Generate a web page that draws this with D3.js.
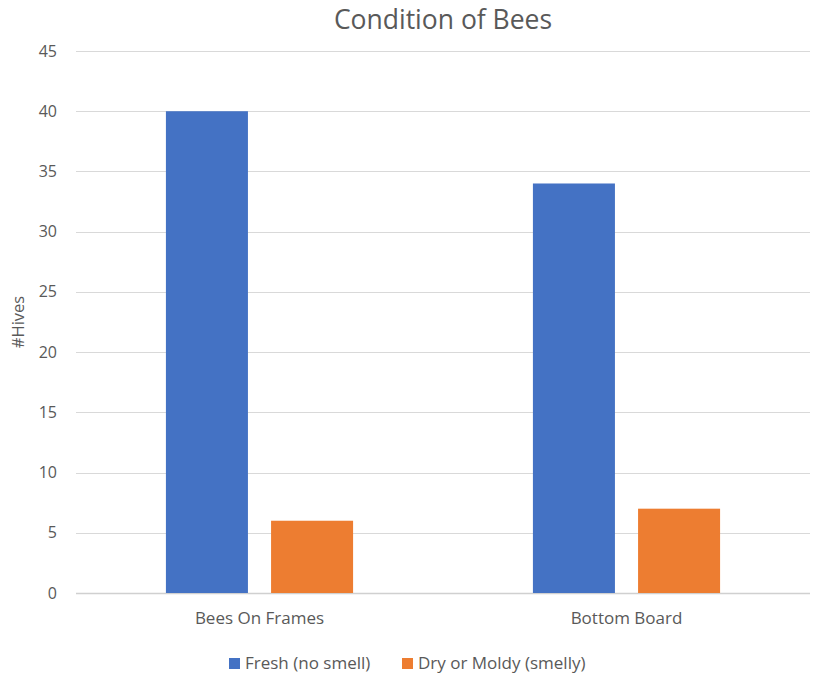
<!DOCTYPE html>
<html>
<head>
<style>
body { margin: 0; background: #fff; }
text { font-family: "Open Sans", "Liberation Sans", sans-serif; fill: #595959; }
.grid line { stroke: #d9d9d9; stroke-width: 1; }
</style>
<script src="https://d3js.org/d3.v7.min.js"></script>
</head>
<body>
<div id="chart"></div>
<script>
var categories = ["Bees On Frames", "Bottom Board"];
var seriesNames = ["Fresh (no smell)", "Dry or Moldy (smelly)"];
var fresh = [40, 34];
var dry = [6, 7];
var yTicks = [0, 5, 10, 15, 20, 25, 30, 35, 40, 45];
var colors = ["#4472c4", "#ed7d31"];

var width = 819, height = 678,
    margin = {top: 51, right: 9, bottom: 85, left: 76};

var svg = d3.select("#chart").append("svg")
    .attr("width", width)
    .attr("height", height);

var x0 = d3.scaleBand()
    .domain(categories)
    .range([margin.left, width - margin.right])
    .paddingInner(0.49)
    .paddingOuter(0.245);

var x1 = d3.scaleBand()
    .domain([0, 1])
    .range([0, x0.bandwidth()])
    .paddingInner(0.22);

var y = d3.scaleLinear()
    .domain([0, 45])
    .range([height - margin.bottom, margin.top]);

// gridlines
svg.append("g").attr("class", "grid")
  .selectAll("line")
  .data(yTicks)
  .enter().append("line")
    .attr("x1", margin.left)
    .attr("x2", width - margin.right)
    .attr("y1", d => Math.round(y(d)) + 0.5)
    .attr("y2", d => Math.round(y(d)) + 0.5)
    .style("stroke", d => d === 0 ? "#d0d0d0" : "#d9d9d9")
    .style("stroke-width", d => d === 0 ? 1.5 : 1);

// y tick labels
svg.append("g")
  .selectAll("text")
  .data(yTicks)
  .enter().append("text")
    .attr("x", margin.left - 19)
    .attr("y", d => y(d))
    .attr("dy", "0.35em")
    .attr("text-anchor", "end")
    .style("font-size", "16px")
    .text(d => d);

var rows = categories.map((c, i) => ({cat: c, vals: [fresh[i], dry[i]]}));

var groups = svg.selectAll(".cat")
  .data(rows)
  .enter().append("g")
    .attr("class", "cat")
    .attr("transform", d => `translate(${x0(d.cat)},0)`);

groups.selectAll("rect")
  .data(d => d.vals.map((v, j) => ({v: v, j: j})))
  .enter().append("rect")
    .attr("x", d => x1(d.j))
    .attr("y", d => y(d.v))
    .attr("width", x1.bandwidth())
    .attr("height", d => y(0) - y(d.v))
    .style("fill", d => colors[d.j]);

// x labels
svg.append("g")
  .selectAll("text")
  .data(categories)
  .enter().append("text")
    .attr("x", d => x0(d) + x0.bandwidth() / 2)
    .attr("y", y(0) + 31)
    .attr("text-anchor", "middle")
    .style("font-size", "17px")
    .text(d => d);

// title
svg.append("text")
  .attr("x", 443)
  .attr("y", 29)
  .attr("text-anchor", "middle")
  .style("font-size", "26.5px")
  .text("Condition of Bees");

// y axis title
svg.append("text")
  .attr("transform", `translate(24,${(y(0) + y(45)) / 2 + 0}) rotate(-90)`)
  .attr("text-anchor", "middle")
  .style("font-size", "16.5px")
  .text("#Hives");

// legend
var legend = svg.append("g").attr("transform", "translate(229,658)");
var lx = [0, 173];
seriesNames.forEach((s, i) => {
  var g = legend.append("g").attr("transform", `translate(${lx[i]},0)`);
  g.append("rect").attr("width", 11).attr("height", 11).style("fill", colors[i]);
  g.append("text").attr("x", 16).attr("y", 5.5).attr("dy", "0.35em")
    .style("font-size", "17px").text(s);
});
</script>
</body>
</html>
